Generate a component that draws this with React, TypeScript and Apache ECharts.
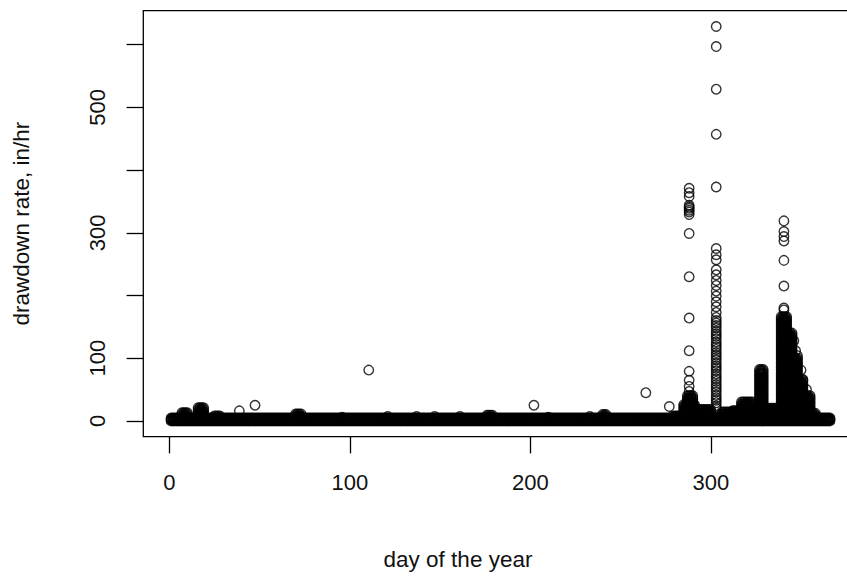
import React, { useEffect, useRef } from "react";
import * as echarts from "echarts";

// axis ticks and labels (R drops overlapping y labels)
const xTickValues = [0, 100, 200, 300];
const yTickValues = [0, 100, 200, 300, 400, 500, 600];
const yLabelValues = [0, 100, 300, 500];

// dense near-zero readings present on every day of the record
const baseFirstDay = 1;
const baseLastDay = 366;
const baseLevels = [0, 1.5, 3, 4.5];

// heaps of dense readings: first day, last day, highest value
const heapFrom = [7, 16, 25, 70, 176, 240, 279, 285, 287, 292, 306, 312, 317, 324, 327, 330, 339, 343, 346, 349, 352, 356];
const heapTo = [10, 19, 28, 73, 179, 242, 285, 291, 290, 300, 312, 316, 323, 326, 329, 337, 342, 345, 348, 351, 355, 358];
const heapTop = [13, 21, 8, 11, 9, 10, 8, 26, 40, 18, 14, 16, 30, 20, 82, 20, 166, 140, 100, 65, 40, 12];
const heapSpacing = 3;

// tall columns of readings
const tower1Day = 288;
const tower1Values = [371, 364, 358, 344, 341, 339, 336, 333, 329, 299, 230, 164, 112, 79, 65, 55, 47];
const tower2Day = 303;
const tower2Values = [629, 597, 529, 457, 373, 275, 265, 257, 241, 233, 224, 216, 207, 199, 190, 182, 173, 165, 160, 156, 152, 148, 143, 139, 135, 131, 126, 122, 118, 114, 109, 105, 101, 97, 92, 88, 84, 80, 75, 71, 67, 63, 58, 54, 50, 46, 41, 37, 33, 29, 24, 20];
const tower3Day = 340.5;
const tower3Values = [319, 302, 294, 287, 256, 215, 180, 177];

// isolated readings
const loneDays = [38.8, 47.5, 95.8, 110.5, 121, 137, 147, 161, 202, 210, 233, 264, 277, 346, 347, 348, 350, 351, 353];
const loneValues = [16, 25, 6, 81, 7, 7, 7, 7, 25, 6, 7, 45, 23, 128, 112, 104, 81, 66, 50];

const FONT = "'Liberation Sans', Arial, sans-serif";

function buildPoints(): number[][] {
  const pts: number[][] = [];
  for (let d = baseFirstDay; d <= baseLastDay; d++) {
    for (const v of baseLevels) pts.push([d, v]);
  }
  for (let i = 0; i < heapFrom.length; i++) {
    for (let d = heapFrom[i]; d <= heapTo[i]; d++) {
      for (let v = heapTop[i]; v > baseLevels[baseLevels.length - 1]; v -= heapSpacing) pts.push([d, v]);
    }
  }
  for (const v of tower1Values) pts.push([tower1Day, v]);
  for (const v of tower2Values) pts.push([tower2Day, v]);
  for (const v of tower3Values) pts.push([tower3Day, v]);
  for (let i = 0; i < loneDays.length; i++) pts.push([loneDays[i], loneValues[i]]);
  return pts;
}

export default function App() {
  const ref = useRef<HTMLDivElement>(null);
  useEffect(() => {
    if (!ref.current) return;
    const chart = echarts.init(ref.current, null, { renderer: "svg" });
    chart.setOption({
      animation: false,
      backgroundColor: "#ffffff",
      grid: {
        left: 143.3,
        top: 10.7,
        width: 713,
        height: 426,
        show: true,
        borderColor: "#000",
        borderWidth: 1.3,
        backgroundColor: "transparent",
        outerBoundsMode: "none",
        containLabel: false,
      },
      xAxis: {
        type: "value",
        min: -14.4,
        max: 380.6,
        axisLine: { show: false, onZero: false },
        splitLine: { show: false },
        axisTick: {
          customValues: xTickValues,
          length: 16.7,
          lineStyle: { color: "#000", width: 1.3 },
        },
        axisLabel: {
          customValues: xTickValues,
          fontSize: 22,
          color: "#111",
          fontFamily: FONT,
          margin: 35,
        },
      },
      yAxis: {
        type: "value",
        min: -25.2,
        max: 654.2,
        axisLine: { show: false, onZero: false },
        splitLine: { show: false },
        axisTick: {
          customValues: yTickValues,
          length: 16.7,
          lineStyle: { color: "#000", width: 1.3 },
        },
        axisLabel: {
          customValues: yLabelValues,
          rotate: 90,
          fontSize: 22,
          color: "#111",
          fontFamily: FONT,
          margin: 35,
        },
      },
      graphic: [
        {
          type: "text",
          x: 458,
          y: 559,
          style: {
            text: "day of the year",
            fontSize: 22.5,
            fontFamily: FONT,
            fill: "#111",
            textAlign: "center",
            textVerticalAlign: "middle",
          },
        },
        {
          type: "text",
          x: 21.5,
          y: 223.7,
          rotation: Math.PI / 2,
          style: {
            text: "drawdown rate, in/hr",
            fontSize: 22.5,
            fontFamily: FONT,
            fill: "#111",
            textAlign: "center",
            textVerticalAlign: "middle",
          },
        },
      ],
      series: [
        {
          type: "scatter",
          data: buildPoints(),
          symbol: "circle",
          symbolSize: 9.5,
          silent: true,
          progressive: 0,
          itemStyle: {
            color: "rgba(0,0,0,0)",
            borderColor: "#000",
            borderWidth: 1.4,
          },
        },
      ],
    });
    return () => chart.dispose();
  }, []);
  return (
    <div
      ref={ref}
      style={{ position: "fixed", left: 0, top: 0, width: 847, height: 578, background: "#fff" }}
    />
  );
}
